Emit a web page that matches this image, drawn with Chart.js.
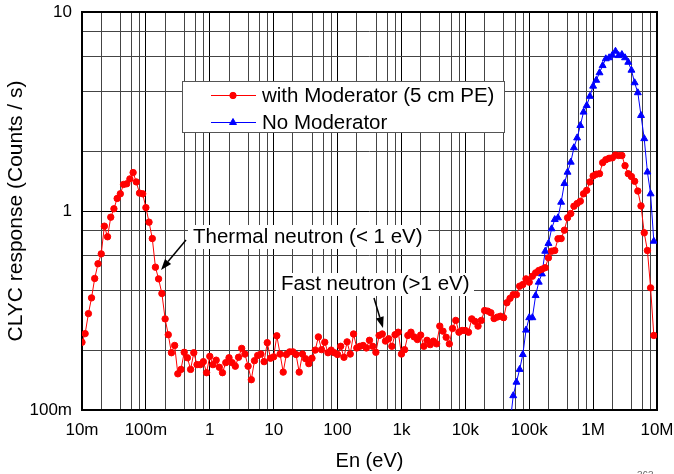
<!DOCTYPE html>
<html>
<head>
<meta charset="utf-8">
<script src="https://cdn.jsdelivr.net/npm/chart.js@4.4.1/dist/chart.umd.min.js"></script>
<style>
  html, body { margin: 0; padding: 0; background: #fff; }
  canvas { display: block; }
</style>
</head>
<body>
<canvas id="clycChart" width="674" height="474"></canvas>
<script>
// energy bins (eV), 20 per decade
const energies = [
    1.00e-2, 1.12e-2, 1.26e-2, 1.41e-2, 1.58e-2, 1.78e-2, 2.00e-2, 2.24e-2, 2.51e-2, 2.82e-2,
    3.16e-2, 3.55e-2, 3.98e-2, 4.47e-2, 5.01e-2, 5.62e-2, 6.31e-2, 7.08e-2, 7.94e-2, 8.91e-2,
    1.00e-1, 1.12e-1, 1.26e-1, 1.41e-1, 1.58e-1, 1.78e-1, 2.00e-1, 2.24e-1, 2.51e-1, 2.82e-1,
    3.16e-1, 3.55e-1, 3.98e-1, 4.47e-1, 5.01e-1, 5.62e-1, 6.31e-1, 7.08e-1, 7.94e-1, 8.91e-1,
    1.00e0, 1.12e0, 1.26e0, 1.41e0, 1.58e0, 1.78e0, 2.00e0, 2.24e0, 2.51e0, 2.82e0,
    3.16e0, 3.55e0, 3.98e0, 4.47e0, 5.01e0, 5.62e0, 6.31e0, 7.08e0, 7.94e0, 8.91e0,
    1.00e1, 1.12e1, 1.26e1, 1.41e1, 1.58e1, 1.78e1, 2.00e1, 2.24e1, 2.51e1, 2.82e1,
    3.16e1, 3.55e1, 3.98e1, 4.47e1, 5.01e1, 5.62e1, 6.31e1, 7.08e1, 7.94e1, 8.91e1,
    1.00e2, 1.12e2, 1.26e2, 1.41e2, 1.58e2, 1.78e2, 2.00e2, 2.24e2, 2.51e2, 2.82e2,
    3.16e2, 3.55e2, 3.98e2, 4.47e2, 5.01e2, 5.62e2, 6.31e2, 7.08e2, 7.94e2, 8.91e2,
    1.00e3, 1.12e3, 1.26e3, 1.41e3, 1.58e3, 1.78e3, 2.00e3, 2.24e3, 2.51e3, 2.82e3,
    3.16e3, 3.55e3, 3.98e3, 4.47e3, 5.01e3, 5.62e3, 6.31e3, 7.08e3, 7.94e3, 8.91e3,
    1.00e4, 1.12e4, 1.26e4, 1.41e4, 1.58e4, 1.78e4, 2.00e4, 2.24e4, 2.51e4, 2.82e4,
    3.16e4, 3.55e4, 3.98e4, 4.47e4, 5.01e4, 5.62e4, 6.31e4, 7.08e4, 7.94e4, 8.91e4,
    1.00e5, 1.12e5, 1.26e5, 1.41e5, 1.58e5, 1.78e5, 2.00e5, 2.24e5, 2.51e5, 2.82e5,
    3.16e5, 3.55e5, 3.98e5, 4.47e5, 5.01e5, 5.62e5, 6.31e5, 7.08e5, 7.94e5, 8.91e5,
    1.00e6, 1.12e6, 1.26e6, 1.41e6, 1.58e6, 1.78e6, 2.00e6, 2.24e6, 2.51e6, 2.82e6,
    3.16e6, 3.55e6, 3.98e6, 4.47e6, 5.01e6, 5.62e6, 6.31e6, 7.08e6, 7.94e6, 8.91e6
];

// counts / s, with 5 cm PE moderator (one per energy bin)
const withModerator = [
    0.219, 0.242, 0.305, 0.366, 0.458, 0.543, 0.609, 0.839, 0.742, 0.931,
    1.026, 1.156, 1.22, 1.36, 1.37, 1.45, 1.56, 1.40, 1.23, 1.22,
    1.04, 0.879, 0.727, 0.522, 0.456, 0.385, 0.287, 0.239, 0.194, 0.211,
    0.152, 0.160, 0.195, 0.183, 0.160, 0.194, 0.169, 0.169, 0.175, 0.154,
    0.186, 0.169, 0.178, 0.164, 0.154, 0.173, 0.183, 0.173, 0.166, 0.184,
    0.204, 0.191, 0.166, 0.142, 0.177, 0.188, 0.191, 0.175, 0.218, 0.182,
    0.185, 0.236, 0.191, 0.155, 0.190, 0.196, 0.196, 0.190, 0.155, 0.191,
    0.181, 0.171, 0.182, 0.200, 0.233, 0.201, 0.219, 0.194, 0.200, 0.194,
    0.190, 0.209, 0.184, 0.220, 0.191, 0.241, 0.205, 0.209, 0.211, 0.205,
    0.224, 0.209, 0.195, 0.237, 0.241, 0.222, 0.228, 0.209, 0.239, 0.246,
    0.191, 0.201, 0.237, 0.246, 0.233, 0.226, 0.238, 0.209, 0.224, 0.213,
    0.222, 0.215, 0.264, 0.249, 0.232, 0.215, 0.257, 0.282, 0.246, 0.251,
    0.251, 0.246, 0.287, 0.279, 0.264, 0.282, 0.316, 0.314, 0.308, 0.288,
    0.293, 0.296, 0.291, 0.346, 0.364, 0.380, 0.380, 0.419, 0.427, 0.456,
    0.439, 0.470, 0.489, 0.502, 0.510, 0.519, 0.582, 0.628, 0.633, 0.725,
    0.727, 0.801, 0.925, 0.971, 1.057, 1.09, 1.12, 1.22, 1.27, 1.40,
    1.50, 1.53, 1.54, 1.75, 1.81, 1.84, 1.85, 1.91, 1.90, 1.90,
    1.69, 1.54, 1.49, 1.41, 1.26, 1.06, 0.777, 0.633, 0.411, 0.237
];

// no moderator: only the fast part is on scale, starts at energies[134]
const noModStart = 134;
const noModerator = [
    0.085, 0.118, 0.138, 0.160, 0.190, 0.252, 0.291, 0.291, 0.376, 0.439,
    0.483, 0.628, 0.687, 0.814, 0.906, 0.924, 1.107, 1.374, 1.567, 1.76,
    2.08, 2.33, 2.69, 3.14, 3.39, 3.77, 4.24, 4.54, 4.95, 5.38,
    5.82, 5.89, 6.07, 6.35, 6.04, 6.11, 5.89, 5.59, 5.10, 4.41,
    3.93, 3.02, 2.31, 1.57, 1.22, 0.705
];

const xTickValues = [1e-2, 1e-1, 1, 10, 100, 1e3, 1e4, 1e5, 1e6, 1e7];
const xTickLabels = ['10m', '100m', '1', '10', '100', '1k', '10k', '100k', '1M', '10M'];
const yTickValues = [0.1, 1, 10];
const yTickLabels = ['100m', '1', '10'];
const gridSteps = [1, 2, 4, 6, 8];

const FONT = "'Liberation Sans', Arial, sans-serif";

function labelFor(values, labels, v) {
    for (let i = 0; i < values.length; i++) {
        if (Math.abs(Math.log10(v) - Math.log10(values[i])) < 1e-6) return labels[i];
    }
    return '';
}

// gridlines at 1,2,4,6,8 of each decade
function buildLogTicks(scale, decades) {
    const ticks = [];
    decades.forEach(d => {
        gridSteps.forEach(s => {
            const v = d * s;
            if (v >= scale.min * 0.999 && v <= scale.max * 1.001) ticks.push({ value: v });
        });
    });
    scale.ticks = ticks;
}

const redPoints = energies.map((e, i) => ({ x: e, y: withModerator[i] }));
const bluePoints = noModerator.map((v, i) => ({ x: energies[noModStart + i], y: v }));

function drawArrow(ctx, x1, y1, x2, y2) {
    const ang = Math.atan2(y2 - y1, x2 - x1);
    const len = 11, half = 4;
    ctx.strokeStyle = '#000';
    ctx.fillStyle = '#000';
    ctx.lineWidth = 1.5;
    ctx.beginPath();
    ctx.moveTo(x1, y1);
    ctx.lineTo(x2 - Math.cos(ang) * len, y2 - Math.sin(ang) * len);
    ctx.stroke();
    ctx.beginPath();
    ctx.moveTo(x2, y2);
    ctx.lineTo(x2 - Math.cos(ang) * len - Math.sin(ang) * half, y2 - Math.sin(ang) * len + Math.cos(ang) * half);
    ctx.lineTo(x2 - Math.cos(ang) * len + Math.sin(ang) * half, y2 - Math.sin(ang) * len - Math.cos(ang) * half);
    ctx.closePath();
    ctx.fill();
}

const decorations = {
    id: 'decorations',
    beforeDatasetsDraw(chart) {
        const ctx = chart.ctx;
        const a = chart.chartArea;
        ctx.save();
        // plot frame
        ctx.strokeStyle = '#000';
        ctx.lineWidth = 2;
        ctx.strokeRect(a.left, a.top, a.right - a.left, a.bottom - a.top);

        ctx.font = '20.5px ' + FONT;
        ctx.textBaseline = 'middle';
        ctx.textAlign = 'left';

        // annotation text boxes
        ctx.fillStyle = '#fff';
        ctx.fillRect(188, 225, 240, 24);
        ctx.fillRect(276, 273, 198, 23);
        ctx.fillStyle = '#000';
        ctx.fillText('Thermal neutron (< 1 eV)', 193, 237);
        ctx.fillText('Fast neutron (>1 eV)', 281, 284);
        drawArrow(ctx, 186, 240, 161, 270);
        drawArrow(ctx, 374, 298, 383, 328);

        // legend
        ctx.fillStyle = '#fff';
        ctx.fillRect(182.5, 81.5, 322, 51);
        ctx.strokeStyle = '#555';
        ctx.lineWidth = 1;
        ctx.strokeRect(182.5, 81.5, 322, 51);
        const rows = [
            { y: 95.5, ds: chart.data.datasets[0] },
            { y: 122.5, ds: chart.data.datasets[1] }
        ];
        rows.forEach(r => {
            ctx.strokeStyle = r.ds.borderColor;
            ctx.lineWidth = 1;
            ctx.beginPath();
            ctx.moveTo(211, r.y);
            ctx.lineTo(256, r.y);
            ctx.stroke();
            ctx.fillStyle = r.ds.pointBackgroundColor;
            ctx.strokeStyle = r.ds.pointBorderColor;
            Chart.helpers.drawPoint(ctx, {
                pointStyle: r.ds.pointStyle,
                radius: r.ds.pointRadius,
                borderWidth: 1
            }, 233, r.y);
            ctx.fillStyle = '#000';
            ctx.fillText(r.ds.label, 262, r.y + 1);
        });
        ctx.restore();
    },
    afterDraw(chart) {
        const ctx = chart.ctx;
        ctx.save();
        ctx.font = '10px ' + FONT;
        ctx.fillStyle = '#666';
        ctx.textBaseline = 'top';
        ctx.fillText('363', 637, 471);
        ctx.restore();
    }
};

const ctx = document.getElementById('clycChart').getContext('2d');
const clycChart = new Chart(ctx, {
    type: 'line',
    data: {
        datasets: [{
            label: 'with Moderator (5 cm PE)',
            data: redPoints,
            borderColor: '#ff0000',
            backgroundColor: '#ff0000',
            pointBackgroundColor: '#ff0000',
            pointBorderColor: '#ff0000',
            pointStyle: 'circle',
            pointRadius: 3.2,
            borderWidth: 1,
            tension: 0
        }, {
            label: 'No Moderator',
            data: bluePoints,
            borderColor: '#0000ff',
            backgroundColor: '#0000ff',
            pointBackgroundColor: '#0000ff',
            pointBorderColor: '#0000ff',
            pointStyle: 'triangle',
            pointRadius: 4,
            borderWidth: 1,
            tension: 0
        }]
    },
    options: {
        responsive: false,
        animation: false,
        devicePixelRatio: 1,
        layout: { padding: { top: 12, right: 17, left: 0, bottom: 0 } },
        plugins: {
            legend: { display: false },
            tooltip: { enabled: false }
        },
        scales: {
            x: {
                type: 'logarithmic',
                min: 0.01,
                max: 1e7,
                afterBuildTicks: scale => buildLogTicks(scale, xTickValues),
                afterFit: scale => {
                    scale.height = 64;
                    scale.paddingLeft = 0;
                    scale.paddingRight = 17;
                },
                grid: {
                    drawTicks: false,
                    lineWidth: 1,
                    color: ctx => (labelFor(xTickValues, xTickLabels, ctx.tick.value) ? '#000' : '#444')
                },
                border: { display: false },
                ticks: {
                    autoSkip: false,
                    maxRotation: 0,
                    padding: 10,
                    color: '#000',
                    font: { family: FONT, size: 17 },
                    callback: v => labelFor(xTickValues, xTickLabels, v)
                },
                title: {
                    display: true,
                    text: 'En (eV)',
                    color: '#000',
                    font: { family: FONT, size: 20 },
                    padding: { top: 0, bottom: 1 }
                }
            },
            y: {
                type: 'logarithmic',
                min: 0.1,
                max: 10,
                afterBuildTicks: scale => buildLogTicks(scale, yTickValues),
                afterFit: scale => {
                    scale.width = 82;
                    scale.paddingTop = 10;
                    scale.paddingBottom = 0;
                },
                grid: {
                    drawTicks: false,
                    lineWidth: 1,
                    color: ctx => (labelFor(yTickValues, yTickLabels, ctx.tick.value) ? '#000' : '#444')
                },
                border: { display: false },
                ticks: {
                    autoSkip: false,
                    padding: 10,
                    color: '#000',
                    font: { family: FONT, size: 17 },
                    callback: v => labelFor(yTickValues, yTickLabels, v)
                },
                title: {
                    display: true,
                    text: 'CLYC response (Counts / s)',
                    color: '#000',
                    font: { family: FONT, size: 21 },
                    padding: { top: 4, bottom: 0 }
                }
            }
        }
    },
    plugins: [decorations]
});
</script>
</body>
</html>
